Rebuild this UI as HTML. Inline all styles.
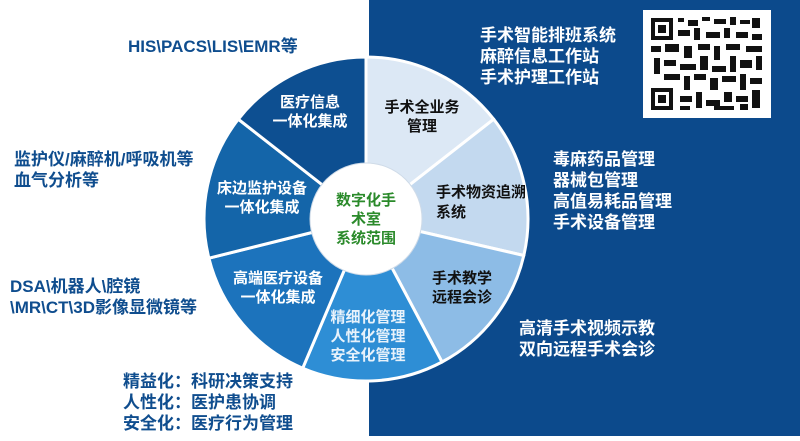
<!DOCTYPE html>
<html><head><meta charset="utf-8"><style>
*{margin:0;padding:0}
body{width:800px;height:441px;position:relative;background:#fff;overflow:hidden;font-family:"Liberation Sans","Noto Sans CJK SC",sans-serif;font-weight:bold}
.t{position:absolute;white-space:nowrap;font-size:17px;line-height:21px}
.b{color:#0f4d8e}
.w{color:#fff}
.s{text-align:center;font-size:15px;line-height:19px}
</style></head><body>
<div style="position:absolute;left:369px;top:0;width:431px;height:436px;background:#0c4a8c"></div>
<svg style="position:absolute;left:0;top:0" width="800" height="441">
<g stroke="#fff" stroke-width="3" stroke-linejoin="round">
<path d="M366 219 L366 57 A162 162 0 0 1 493.7 119.2 Z" fill="#dce8f5"/>
<path d="M366 219 L493.7 119.2 A162 162 0 0 1 523.8 255.5 Z" fill="#c3d9ef"/>
<path d="M366 219 L523.8 255.5 A162 162 0 0 1 442 362 Z" fill="#8dbce6"/>
<path d="M366 219 L442 362 A162 162 0 0 1 302.7 368.2 Z" fill="#2e8ed5"/>
<path d="M366 219 L302.7 368.2 A162 162 0 0 1 208.9 258.2 Z" fill="#1c73bc"/>
<path d="M366 219 L208.9 258.2 A162 162 0 0 1 238.3 119.2 Z" fill="#1465a9"/>
<path d="M366 219 L238.3 119.2 A162 162 0 0 1 366 57 Z" fill="#0d4f91"/>
</g>
<circle cx="366" cy="219" r="56" fill="#fff" stroke="#cfdbe8" stroke-width="1"/>
<rect x="643" y="10" width="128" height="108" fill="#fff"/>
<g fill="#111">
<rect x="651" y="18" width="22" height="22"/><rect x="655" y="22" width="14" height="14" fill="#fff"/><rect x="658" y="25" width="8" height="8"/>
<rect x="651" y="88" width="22" height="22"/><rect x="655" y="92" width="14" height="14" fill="#fff"/><rect x="658" y="95" width="8" height="8"/>
<rect x="678" y="18" width="6" height="4"/><rect x="688" y="20" width="10" height="6"/><rect x="702" y="17" width="8" height="4"/><rect x="714" y="19" width="12" height="5"/><rect x="730" y="17" width="6" height="8"/><rect x="740" y="20" width="10" height="4"/><rect x="752" y="18" width="8" height="10"/>
<rect x="678" y="30" width="12" height="6"/><rect x="694" y="28" width="6" height="12"/><rect x="706" y="32" width="14" height="6"/><rect x="724" y="28" width="6" height="10"/><rect x="736" y="32" width="12" height="6"/><rect x="752" y="34" width="10" height="6"/>
<rect x="651" y="46" width="10" height="6"/><rect x="665" y="44" width="14" height="8"/><rect x="684" y="46" width="8" height="12"/><rect x="698" y="44" width="12" height="6"/><rect x="714" y="46" width="6" height="14"/><rect x="726" y="44" width="14" height="6"/><rect x="746" y="46" width="16" height="6"/>
<rect x="654" y="58" width="6" height="16"/><rect x="664" y="60" width="12" height="6"/><rect x="680" y="64" width="16" height="6"/><rect x="700" y="56" width="8" height="14"/><rect x="712" y="66" width="14" height="6"/><rect x="730" y="56" width="6" height="16"/><rect x="740" y="60" width="12" height="8"/><rect x="756" y="56" width="6" height="14"/>
<rect x="664" y="74" width="16" height="6"/><rect x="684" y="76" width="6" height="14"/><rect x="694" y="74" width="12" height="6"/><rect x="710" y="78" width="8" height="12"/><rect x="722" y="76" width="14" height="6"/><rect x="740" y="74" width="6" height="16"/><rect x="750" y="78" width="12" height="6"/>
<rect x="680" y="96" width="12" height="6"/><rect x="696" y="92" width="6" height="16"/><rect x="706" y="100" width="14" height="6"/><rect x="724" y="92" width="8" height="10"/><rect x="736" y="96" width="12" height="6"/><rect x="752" y="90" width="8" height="18"/><rect x="680" y="106" width="10" height="4"/><rect x="714" y="106" width="20" height="4"/><rect x="740" y="104" width="8" height="6"/>
</g>
</svg>
<div class="t b" style="left:128px;top:36px">HIS\PACS\LIS\EMR等</div>
<div class="t b" style="left:14px;top:149px">监护仪/麻醉机/呼吸机等<br>血气分析等</div>
<div class="t b" style="left:10px;top:276px">DSA\机器人\腔镜<br>\MR\CT\3D影像显微镜等</div>
<div class="t b" style="left:123px;top:371px">精益化：科研决策支持<br>人性化：医护患协调<br>安全化：医疗行为管理</div>
<div class="t w" style="left:480px;top:25px">手术智能排班系统<br>麻醉信息工作站<br>手术护理工作站</div>
<div class="t w" style="left:553px;top:149px">毒麻药品管理<br>器械包管理<br>高值易耗品管理<br>手术设备管理</div>
<div class="t w" style="left:519px;top:318px">高清手术视频示教<br>双向远程手术会诊</div>
<div class="t s w" style="left:255px;top:93px;width:110px">医疗信息<br>一体化集成</div>
<div class="t s" style="left:367px;top:98px;width:110px;color:#111">手术全业务<br>管理</div>
<div class="t s w" style="left:207px;top:179px;width:110px">床边监护设备<br>一体化集成</div>
<div class="t" style="left:436px;top:183px;font-size:15px;line-height:20px;color:#111">手术物资追溯<br>系统</div>
<div class="t s w" style="left:223px;top:269px;width:110px">高端医疗设备<br>一体化集成</div>
<div class="t s" style="left:407px;top:269px;width:110px;color:#111">手术教学<br>远程会诊</div>
<div class="t s" style="left:313px;top:308px;width:110px;color:#e8f2fb">精细化管理<br>人性化管理<br>安全化管理</div>
<div class="t s" style="left:311px;top:191px;width:110px;color:#2a8a2a">数字化手<br>术室<br>系统范围</div>
</body></html>
